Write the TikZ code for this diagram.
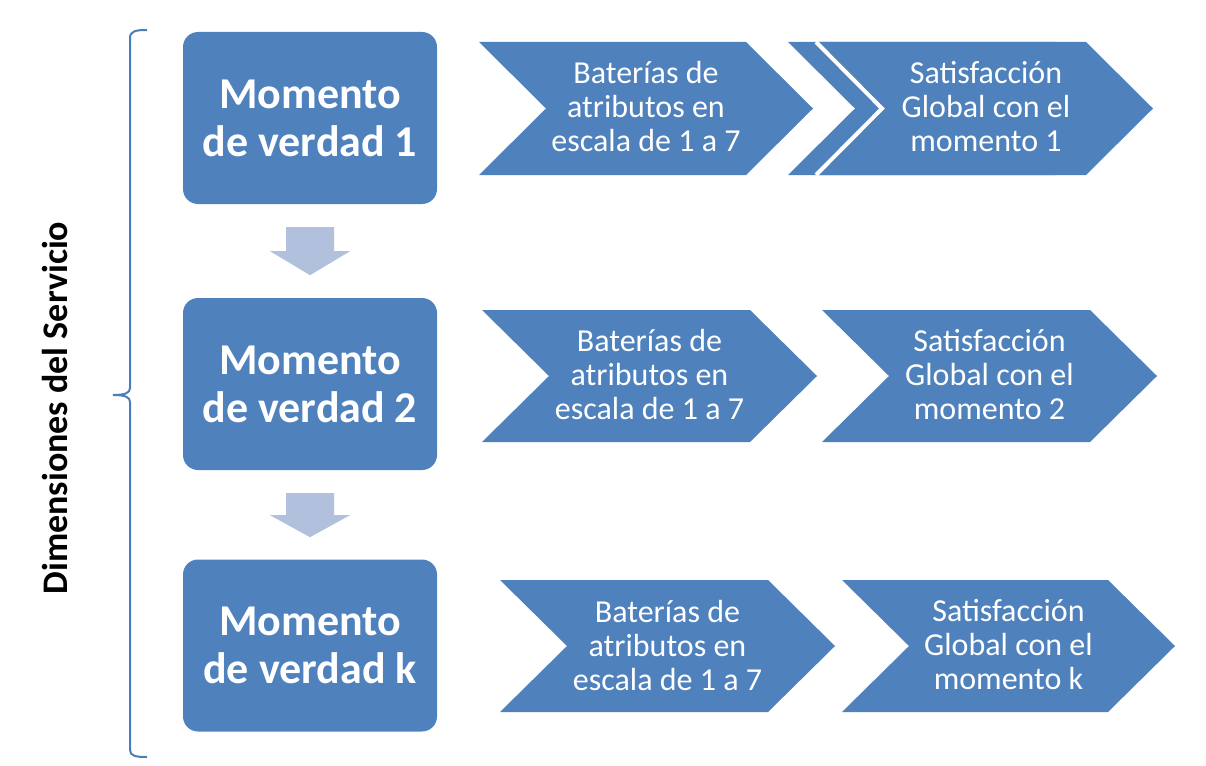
\documentclass[tikz,border=0pt]{standalone}
\usepackage{fontspec}
\setmainfont{Carlito}
\definecolor{boxblue}{HTML}{4F81BD}
\definecolor{arrowblue}{HTML}{B1C1DD}
\definecolor{bracecol}{HTML}{4A7EBB}
\tikzset{
  mbox/.style={fill=boxblue, rounded corners=15pt, minimum width=254pt, minimum height=172pt, inner sep=0pt,
    text=white, font=\bfseries\fontsize{44}{48}\selectfont, align=center},
  chevtext/.style={text=white, font=\fontsize{32}{34}\selectfont, align=center, inner sep=0pt},
  chevfill/.style={fill=boxblue},
  chevedge/.style={draw=white, line width=4pt, line join=miter},
  downarrow/.style={fill=arrowblue},
  bracestyle/.style={draw=bracecol, line width=2pt},
  sidelabel/.style={rotate=90, font=\bfseries\fontsize{36}{40}\selectfont, text=black, inner sep=0pt}
}
\begin{document}
\begin{tikzpicture}[x=1pt, y=-1pt]
\useasboundingbox (0,0) rectangle (1206,765);

% boxes
\node[mbox] (m1) at (310,118) {Momento\\de verdad 1};
\node[mbox] (m2) at (310,384) {Momento\\de verdad 2};
\node[mbox] (m3) at (310,645.5) {Momento\\de verdad k};

% down arrows
\path (m1.south) ++(0,23) coordinate (a1top);
\fill[downarrow] (a1top) ++(-24,0) -- ++(48,0) -- ++(0,24) -- ++(16,0) -- ++(-40,24) -- ++(-40,-24) -- ++(16,0) -- cycle;
\path (m2.south) ++(0,23) coordinate (a2top);
\fill[downarrow] (a2top) ++(-24,0) -- ++(48,0) -- ++(0,22) -- ++(16,0) -- ++(-40,22) -- ++(-40,-22) -- ++(16,0) -- cycle;

% row 1 chevrons
\fill[chevfill] (479,42) -- (746,42) -- (813,108.5) -- (746,175) -- (479,175) -- (546,108.5) -- cycle;
\node[chevtext] (b1) at (646,107) {Baterías de\\atributos en\\escala de 1 a 7};
\fill[chevfill] (788,42) -- (1055,42) -- (1122,108.5) -- (1055,175) -- (788,175) -- (855,108.5) -- cycle;
\fill[chevfill] (819,42) -- (1086,42) -- (1153,108.5) -- (1086,175) -- (819,175) -- (886,108.5) -- cycle;
\draw[chevedge] (816,42) -- (882,108.5) -- (816,175);
\node[chevtext] (s1) at (986,107) {Satisfacción\\Global con el\\momento 1};

% row 2 chevrons
\fill[chevfill] (482,310) -- (750,310) -- (817,376) -- (750,442) -- (482,442) -- (549,376) -- cycle;
\node[chevtext] (b2) at (649.5,375) {Baterías de\\atributos en\\escala de 1 a 7};
\fill[chevfill] (822,310) -- (1090,310) -- (1157,376) -- (1090,442) -- (822,442) -- (889,376) -- cycle;
\node[chevtext] (s2) at (989.5,375) {Satisfacción\\Global con el\\momento 2};

% row 3 chevrons
\fill[chevfill] (500,580) -- (768,580) -- (835,646) -- (768,712) -- (500,712) -- (567,646) -- cycle;
\node[chevtext] (b3) at (667.5,645) {Baterías de\\atributos en\\escala de 1 a 7};
\fill[chevfill] (842,580) -- (1108,580) -- (1175,646) -- (1108,712) -- (842,712) -- (909,646) -- cycle;
\node[chevtext] (s3) at (1008.5,645) {Satisfacción\\Global con el\\momento k};

% brace
\draw[bracestyle] (147,30) .. controls (136,30) and (130,31) .. (130,38) -- (130,388)
  .. controls (130,393) and (125,395) .. (113,395)
  .. controls (125,395) and (130,397) .. (130,402) -- (130,750)
  .. controls (130,756) and (136,757) .. (147,757);

% side label
\node[sidelabel] (dim) at (55,408) {Dimensiones del Servicio};
\end{tikzpicture}
\end{document}
